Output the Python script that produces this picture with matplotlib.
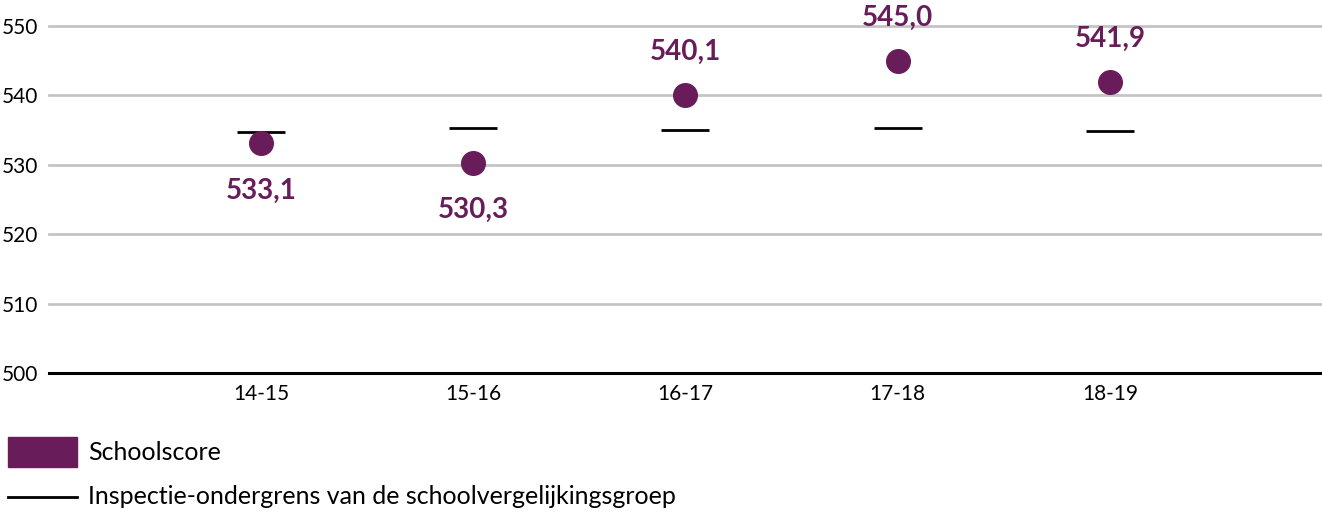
import matplotlib.pyplot as plt
from matplotlib.patches import Rectangle
from matplotlib.lines import Line2D

# schooljaren en scores
jaren = ["14-15", "15-16", "16-17", "17-18", "18-19"]
schoolscore = [533.1, 530.3, 540.1, 545.0, 541.9]
ondergrens = [534.8, 535.3, 535.0, 535.3, 534.9]
labels = ["533,1", "530,3", "540,1", "545,0", "541,9"]
yticks = [500, 510, 520, 530, 540, 550]

paars = "#681d5a"
plt.rcParams['font.family'] = ['Lato', 'DejaVu Sans']

fig = plt.figure(figsize=(13.22, 5.12), dpi=100)
ax = fig.add_axes([0.037, 0.2715, 0.963, 0.6775])

x = list(range(len(jaren)))

# grid lines
for t in yticks[1:]:
    ax.axhline(t, color="#c4c4c4", lw=2, zorder=0, clip_on=False)
ax.axhline(500, color="black", lw=2.2, zorder=1, clip_on=False)

# inspectie-ondergrens
ax.hlines(ondergrens, [i - 0.113 for i in x], [i + 0.113 for i in x],
          color="black", lw=2, zorder=2)

# schoolscores
ax.plot(x, schoolscore, "o", color=paars, markersize=17, zorder=3, linestyle="none")

for i, (s, g, lab) in enumerate(zip(schoolscore, ondergrens, labels)):
    # label under the dot when it's below the norm, else above
    dy = -34 if s < g else 31
    ax.annotate(lab, (i, s), xytext=(0, dy), textcoords="offset points",
                ha="center", va="center", fontsize=20, fontweight="bold",
                color=paars, annotation_clip=False)

ax.set_xlim(-1, 5)
ax.set_ylim(500, 550)
ax.set_xticks(x)
ax.set_xticklabels(jaren, fontsize=15)
ax.set_yticks(yticks)
ax.set_yticklabels([str(t) for t in yticks], fontsize=15)
ax.tick_params(axis="x", length=0, pad=8)
ax.tick_params(axis="y", length=0, pad=8)
for sp in ax.spines.values():
    sp.set_visible(False)

# legend
fig.add_artist(Rectangle((8 / 1322, 1 - 467 / 512), 69 / 1322, 30 / 512,
                         transform=fig.transFigure, color=paars))
fig.text(88 / 1322, 1 - 452 / 512, "Schoolscore", fontsize=18, va="center")
fig.add_artist(Line2D([8 / 1322, 77 / 1322], [1 - 497 / 512, 1 - 497 / 512],
                      transform=fig.transFigure, color="black", lw=2))
fig.text(88 / 1322, 1 - 497 / 512, "Inspectie-ondergrens van de schoolvergelijkingsgroep",
         fontsize=18, va="center")

fig.savefig("out.png", dpi=100)
